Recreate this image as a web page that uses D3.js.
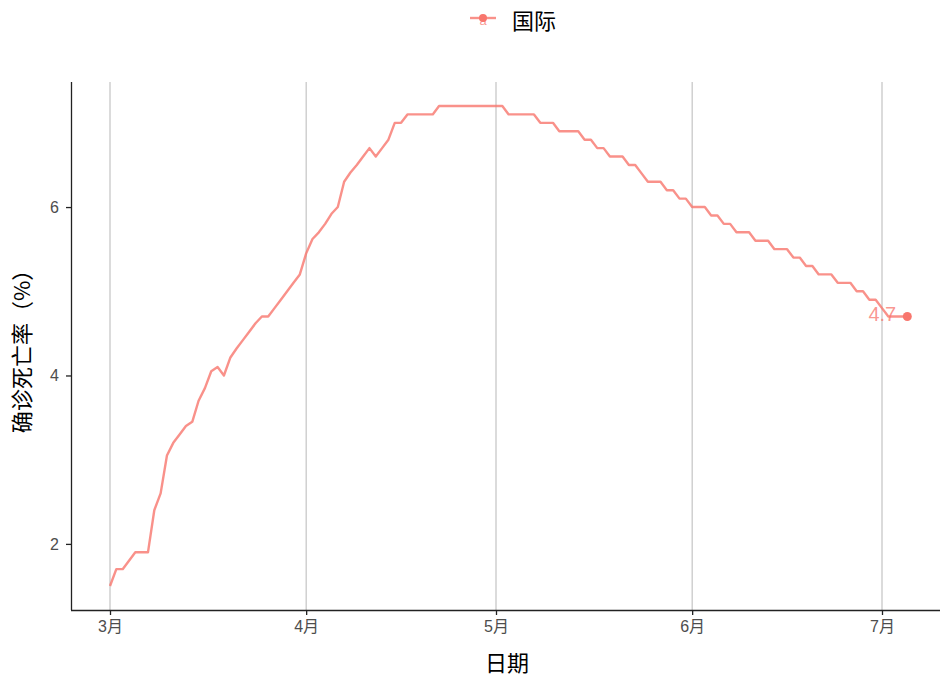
<!DOCTYPE html>
<html>
<head>
<meta charset="utf-8">
<script src="https://cdn.jsdelivr.net/npm/d3@7/dist/d3.min.js"></script>
<style>
  body { margin: 0; background: #fff; }
  text { font-family: "Liberation Sans", Arial, "Noto Sans CJK SC", sans-serif; }
</style>
</head>
<body>
<svg id="chart" width="942" height="682"></svg>
<script>
// ---- Data ----
const startDate = "2020-03-01";
const seriesName = "国际";
// daily confirmed case fatality rate (%) from 2020-03-01
const rateValues = [
  1.50, 1.70, 1.70, 1.80, 1.90, 1.90, 1.90, 2.40, 2.60, 3.05,
  3.20, 3.30, 3.40, 3.45, 3.70, 3.85, 4.05, 4.10, 4.00, 4.21,
  4.32, 4.42, 4.52, 4.62, 4.70, 4.70, 4.80, 4.90, 5.00, 5.10,
  5.20, 5.45, 5.62, 5.70, 5.80, 5.92, 6.00, 6.30, 6.41, 6.50,
  6.60, 6.70, 6.60, 6.70, 6.80, 7.00, 7.00, 7.10, 7.10, 7.10,
  7.10, 7.10, 7.20, 7.20, 7.20, 7.20, 7.20, 7.20, 7.20, 7.20,
  7.20, 7.20, 7.20, 7.10, 7.10, 7.10, 7.10, 7.10, 7.00, 7.00,
  7.00, 6.90, 6.90, 6.90, 6.90, 6.80, 6.80, 6.70, 6.70, 6.60,
  6.60, 6.60, 6.50, 6.50, 6.40, 6.30, 6.30, 6.30, 6.20, 6.20,
  6.10, 6.10, 6.00, 6.00, 6.00, 5.90, 5.90, 5.80, 5.80, 5.70,
  5.70, 5.70, 5.60, 5.60, 5.60, 5.50, 5.50, 5.50, 5.40, 5.40,
  5.30, 5.30, 5.20, 5.20, 5.20, 5.10, 5.10, 5.10, 5.00, 5.00,
  4.90, 4.90, 4.80, 4.70, 4.70, 4.70, 4.70
];
const xTickDates = ["2020-03-01", "2020-04-01", "2020-05-01", "2020-06-01", "2020-07-01"];
const xTickLabels = ["3月", "4月", "5月", "6月", "7月"];
const yTicks = [2, 4, 6];
const xTitle = "日期";
const yTitle = "确诊死亡率（%）";

// ---- Build ----
const parse = d3.utcParse("%Y-%m-%d");
const t0 = parse(startDate);
const data = rateValues.map((v, i) => ({ date: d3.utcDay.offset(t0, i), value: v }));

const svg = d3.select("#chart");
const panel = { left: 71, right: 940, top: 82, bottom: 610 };
const lineColor = "#F8766D";

const x = d3.scaleUtc()
  .domain([parse(xTickDates[0]), parse(xTickDates[4])])
  .range([110, 882]);
const yMin = d3.min(rateValues), yMax = d3.max(rateValues);
const pad = (yMax - yMin) * 0.05;
const y = d3.scaleLinear().domain([yMin - pad, yMax + pad]).range([panel.bottom, panel.top]);

// grid lines (vertical only)
svg.append("g").selectAll("line")
  .data(xTickDates.map(parse))
  .join("line")
  .attr("x1", d => x(d)).attr("x2", d => x(d))
  .attr("y1", panel.top).attr("y2", panel.bottom)
  .attr("stroke", "#BEBEBE").attr("stroke-width", 1.1);

// line
const line = d3.line().x(d => x(d.date)).y(d => y(d.value));
svg.append("path").datum(data)
  .attr("d", line)
  .attr("fill", "none")
  .attr("stroke", lineColor)
  .attr("stroke-opacity", 0.8)
  .attr("stroke-width", 2.4)
  .attr("stroke-linejoin", "round");

// end point and label
const last = data[data.length - 1];
svg.append("circle")
  .attr("cx", x(last.date)).attr("cy", y(last.value))
  .attr("r", 4.5).attr("fill", lineColor);
svg.append("text")
  .attr("x", x(last.date) - 25).attr("y", y(last.value) - 3)
  .attr("text-anchor", "middle").attr("dominant-baseline", "central")
  .style("font-size", "20px").attr("fill", lineColor).attr("fill-opacity", 0.75)
  .text(last.value.toFixed(1));

// axes
const xAxis = d3.axisBottom(x)
  .tickValues(xTickDates.map(parse))
  .tickFormat((d, i) => xTickLabels[i])
  .tickSizeOuter(0).tickSize(5).tickPadding(6);
const gx = svg.append("g").attr("transform", `translate(0,${panel.bottom})`).call(xAxis);
gx.select(".domain").attr("d", `M${panel.left},0.5H${panel.right}`).attr("stroke", "#222").attr("stroke-width", 1.3);
gx.selectAll(".tick line").attr("stroke", "#222").attr("stroke-width", 1.3);
gx.selectAll(".tick text").style("font-size", "16px").attr("fill", "#4D4D4D")
  .style("font-family", "'Liberation Sans', 'Noto Sans CJK SC', sans-serif");

const yAxis = d3.axisLeft(y).tickValues(yTicks).tickFormat(d3.format("d"))
  .tickSizeOuter(0).tickSize(5).tickPadding(7);
const gy = svg.append("g").attr("transform", `translate(${panel.left},0)`).call(yAxis);
gy.select(".domain").attr("d", `M0.5,${panel.top}V${panel.bottom}`).attr("stroke", "#222").attr("stroke-width", 1.3);
gy.selectAll(".tick line").attr("stroke", "#222").attr("stroke-width", 1.3);
gy.selectAll(".tick text").style("font-size", "16px").attr("fill", "#4D4D4D");

// axis titles
svg.append("text")
  .attr("x", 507).attr("y", 671)
  .attr("text-anchor", "middle").style("font-size", "22px").attr("fill", "#000")
  .style("font-family", "'Noto Sans CJK SC', sans-serif")
  .text(xTitle);
svg.append("text")
  .attr("transform", `translate(30,${(panel.top + panel.bottom) / 2}) rotate(-90)`)
  .attr("text-anchor", "middle").style("font-size", "22px").attr("fill", "#000")
  .style("font-family", "'Noto Sans CJK SC', sans-serif")
  .text(yTitle);

// legend
const lg = svg.append("g").attr("transform", "translate(483,18)");
lg.append("line").attr("x1", -13).attr("x2", 13).attr("y1", 0).attr("y2", 0)
  .attr("stroke", lineColor).attr("stroke-opacity", 0.8).attr("stroke-width", 2.4);
lg.append("circle").attr("r", 4).attr("fill", lineColor);
lg.append("text").attr("x", 0).attr("y", 7).attr("text-anchor", "middle")
  .style("font-size", "13px").attr("fill", lineColor).attr("fill-opacity", 0.75).text("a");
svg.append("text").attr("x", 512).attr("y", 19)
  .attr("dominant-baseline", "central").style("font-size", "22px").attr("fill", "#000")
  .style("font-family", "'Noto Sans CJK SC', sans-serif")
  .text(seriesName);
</script>
</body>
</html>
